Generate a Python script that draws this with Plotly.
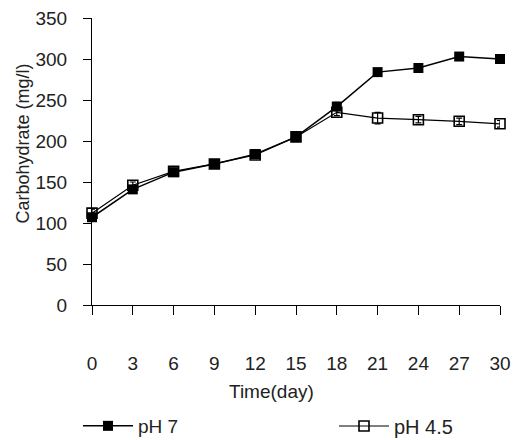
import plotly.graph_objects as go

days = [0, 3, 6, 9, 12, 15, 18, 21, 24, 27, 30]
ph7 = [107, 141, 162, 172, 184, 205, 242, 284, 289, 303, 300]
ph7_err = [5, 4, 3, 3, 5, 3, 5, 4, 4, 4, 4]
ph45 = [112, 146, 163, 172, 183, 205, 235, 228, 226, 224, 221]
ph45_err = [5, 4, 3, 3, 4, 3, 4, 7, 4, 4, 4]
x_ticks = [0, 3, 6, 9, 12, 15, 18, 21, 24, 27, 30]
y_ticks = [0, 50, 100, 150, 200, 250, 300, 350]
x_title = "Time(day)"
y_title = "Carbohydrate (mg/l)"

fig = go.Figure()
fig.add_trace(go.Scatter(
    x=days, y=ph7, name="pH 7", mode="lines+markers", legend="legend",
    line=dict(color="black", width=1.5),
    marker=dict(symbol="square", size=10, color="black"),
    error_y=dict(type="data", array=ph7_err, color="black", thickness=1.2, width=3),
    cliponaxis=False,
))
fig.add_trace(go.Scatter(
    x=days, y=ph45, name="pH 4.5", mode="lines+markers", legend="legend2",
    line=dict(color="black", width=1.2),
    marker=dict(symbol="square-open", size=10, color="black", line=dict(width=1.6)),
    error_y=dict(type="data", array=ph45_err, color="black", thickness=1.2, width=3),
    cliponaxis=False,
))

font = "Liberation Sans, Arial, sans-serif"
W, H = 513, 440
L, T = 92, 18
R = W - 500
B = H - 305
pw, ph = W - L - R, H - T - B

def px_x(x):
    return (x - L) / pw

def px_y(y):
    return (H - B - y) / ph

fig.update_layout(
    width=W, height=H,
    margin=dict(l=L, r=R, t=T, b=B, autoexpand=False),
    paper_bgcolor="white", plot_bgcolor="white",
    font=dict(family=font, size=19, color="#222"),
    showlegend=True,
    legend=dict(x=px_x(78), y=px_y(426), xanchor="left", yanchor="middle",
                itemwidth=50, font=dict(size=19), bgcolor="rgba(0,0,0,0)"),
    legend2=dict(x=px_x(334), y=px_y(426), xanchor="left", yanchor="middle",
                 itemwidth=50, font=dict(size=20), bgcolor="rgba(0,0,0,0)"),
    xaxis=dict(range=[0, 30], tickmode="array", tickvals=x_ticks, automargin=False,
               showgrid=False, zeroline=False, showline=True, linecolor="black", linewidth=1.2,
               ticks="outside", ticklen=9, tickcolor="black", tickwidth=1,
               ticklabelstandoff=32, ticklabeloverflow="allow"),
    yaxis=dict(range=[0, 350], tickmode="array", tickvals=y_ticks, automargin=False,
               showgrid=False, zeroline=False, showline=True, linecolor="black", linewidth=1.2,
               ticks="outside", ticklen=8, tickcolor="black", tickwidth=1,
               ticklabelstandoff=12, ticklabeloverflow="allow"),
    annotations=[
        dict(text=x_title, xref="paper", yref="paper", x=px_x(271.5), y=px_y(391),
             xanchor="center", yanchor="middle", showarrow=False, font=dict(size=19)),
        dict(text=y_title, xref="paper", yref="paper", x=px_x(22), y=px_y(143.5),
             xanchor="center", yanchor="middle", showarrow=False, textangle=-90,
             font=dict(size=18)),
    ],
)

fig.write_html(
    "out.html",
    config={"displayModeBar": False},
    post_script="document.body.style.margin='0';document.body.style.overflow='hidden';",
)
